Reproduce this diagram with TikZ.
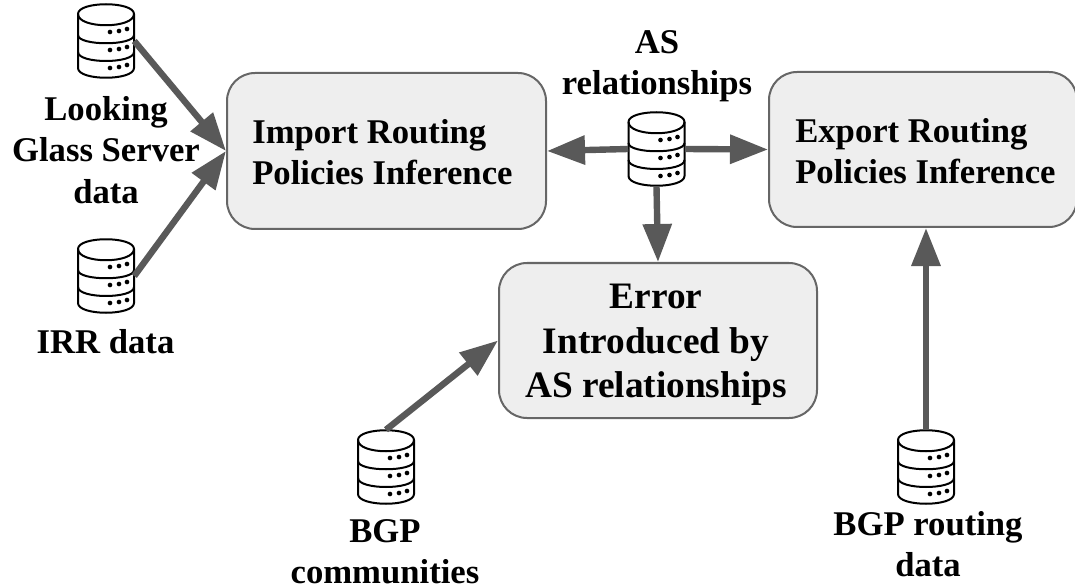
\documentclass[tikz,border=0pt]{standalone}
\usepackage{fontspec}
\setmainfont{Liberation Serif}
\usetikzlibrary{arrows.meta}
\definecolor{arrowgray}{HTML}{595959}
\definecolor{boxfill}{HTML}{EEEEEE}
\definecolor{boxline}{HTML}{666666}
\tikzset{
  x=0.75pt,y=-0.75pt,
  procbox/.style={draw=boxline,fill=boxfill,line width=1.5pt,rounded corners=21pt,inner sep=0pt,anchor=north west},
  lbl/.style={inner sep=0pt,align=center,font=\fontsize{26pt}{31pt}\selectfont\bfseries},
  boxlbl/.style={inner sep=0pt,align=left,anchor=west,font=\fontsize{26pt}{31pt}\selectfont\bfseries},
  errlbl/.style={inner sep=0pt,align=center,font=\fontsize{28pt}{33.4pt}\selectfont\bfseries},
  flow/.style={draw=arrowgray,line width=4.8pt,-{Triangle[length=28.5pt,width=21pt]}},
  dbnode/.style={inner sep=0pt,minimum width=42pt,minimum height=55.5pt,draw=none},
  pics/dbicon/.style={code={
    \begin{scope}[line width=1.5pt,draw=black,fill=white,line join=round]
      \draw (-28,-27) .. controls (-28,-40) and (28,-40) .. (28,-27) -- (28,27)
        .. controls (28,40) and (-28,40) .. (-28,27) -- cycle;
      \draw (-28,-27) .. controls (-28,-12) and (28,-12) .. (28,-27);
      \draw (-28,-6) .. controls (-28,5) and (28,5) .. (28,-6);
      \draw (-28,11) .. controls (-28,23) and (28,23) .. (28,11);
    \end{scope}
    \foreach \yy in {-9,9,27}{
      \fill (4,\yy) circle (1.75pt) (13,\yy-1) circle (1.75pt) (21,\yy-3) circle (1.75pt);
    }
  }}
}
\begin{document}
\begin{tikzpicture}
\useasboundingbox (0,0) rectangle (1075,588);
\node[procbox,minimum width=239.25pt,minimum height=117pt] (import) at (226,72) {};
\node[procbox,minimum width=231pt,minimum height=116.25pt] (export) at (768,71) {};
\node[procbox,minimum width=238.5pt,minimum height=116.25pt] (error) at (498,262) {};
\node[boxlbl] (importlbl) at (252,152) {Import Routing\\Policies Inference};
\node[boxlbl] (exportlbl) at (795,151) {Export Routing\\Policies Inference};
\node[errlbl] (errorlbl) at (656,345) {Error\\Introduced by\\AS relationships};
\node[dbnode] (dba) at (106,41) {};
\node[dbnode] (dbb) at (106,276) {};
\node[dbnode] (dbc) at (656.5,149) {};
\node[dbnode] (dbd) at (386,467) {};
\node[dbnode] (dbe) at (926,467) {};
\foreach \n in {dba,dbb,dbc,dbd,dbe}{\pic at (\n) {dbicon};}
\node[lbl] (lg) at (106,150) {Looking\\Glass Server\\data};
\node[lbl] (irr) at (105.5,342) {IRR data};
\node[lbl] (asr) at (657,66) {AS\\relationships};
\node[lbl] (bgpc) at (385,552) {BGP\\communities};
\node[lbl] (bgpr) at (928,544) {BGP routing\\data};
\draw[flow] (dba.east) -- (import.west);
\draw[flow] (dbb.east) -- (import.west);
\draw[flow] (dbc.west) -- (import.east);
\draw[flow] (dbc.east) -- (export.west);
\draw[flow] (dbc.south) -- (error.north);
\draw[flow] (dbd.north) -- (error.west);
\draw[flow] (dbe.north) -- (dbe.north |- export.south);
\end{tikzpicture}
\end{document}
